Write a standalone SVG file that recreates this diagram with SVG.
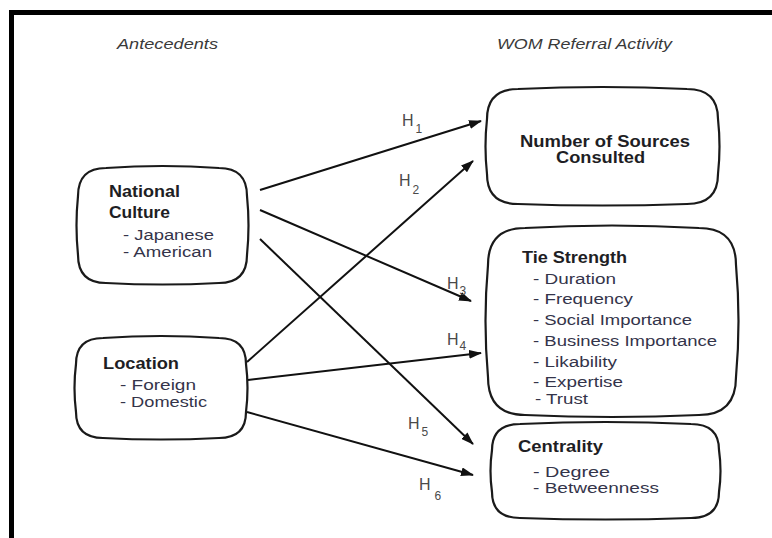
<svg xmlns="http://www.w3.org/2000/svg" width="772" height="538" viewBox="0 0 772 538">
  <style>
    .box { fill: #ffffff; stroke: #1a1a1a; stroke-width: 2.2; }
    .lbl { font-family: "Liberation Sans", Arial, sans-serif; font-weight: bold; font-size: 16px; fill: #1e1e24; }
    .item { font-family: "Liberation Sans", Arial, sans-serif; font-size: 15.5px; fill: #34344a; }
    .hdr { font-family: "Liberation Sans", Arial, sans-serif; font-style: italic; font-size: 14px; fill: #3a3a3a; }
    .h { font-family: "Liberation Sans", Arial, sans-serif; font-size: 16px; fill: #4a4a4a; }
    .sub { font-size: 12px; }
    .conn { stroke: #111111; stroke-width: 2; fill: none; marker-end: url(#arr); }
  </style>
  <defs>
    <marker id="arr" viewBox="0 0 13 9" refX="12" refY="4.5" markerWidth="13" markerHeight="9" markerUnits="userSpaceOnUse" orient="auto">
      <path d="M0,0 L13,4.5 L0,9 Z" fill="#111111"/>
    </marker>
  </defs>
  <rect x="0" y="0" width="772" height="538" fill="#ffffff"/>
  <path d="M11.5,540 L11.5,12.5 L775,12.5" fill="none" stroke="#000000" stroke-width="5"/>

  <text class="hdr" x="117" y="49" textLength="101" lengthAdjust="spacingAndGlyphs">Antecedents</text>
  <text class="hdr" x="497" y="49" textLength="175" lengthAdjust="spacingAndGlyphs">WOM Referral Activity</text>

  <g id="national-culture">
    <path class="box" d="M106,168 Q162.5,164 219,168 Q247,168 247,196 Q250,225.5 247,255 Q247,283 219,283 Q162.5,286 106,283 Q78,283 78,255 Q75,225.5 78,196 Q78,168 106,168 Z"/>
    <text class="lbl" x="109" y="197" textLength="71" lengthAdjust="spacingAndGlyphs">National</text>
    <text class="lbl" x="109" y="218" textLength="61" lengthAdjust="spacingAndGlyphs">Culture</text>
    <text class="item" x="123" y="240" textLength="91" lengthAdjust="spacingAndGlyphs">- Japanese</text>
    <text class="item" x="123" y="257" textLength="89" lengthAdjust="spacingAndGlyphs">- American</text>
  </g>

  <g id="location">
    <path class="box" d="M103,338 Q161,334 219,338 Q246,338 246,364 Q249,388 246,412 Q246,438 219,438 Q161,441 103,438 Q76,438 76,412 Q73,388 76,364 Q76,338 103,338 Z"/>
    <text class="lbl" x="103" y="369" textLength="76" lengthAdjust="spacingAndGlyphs">Location</text>
    <text class="item" x="120" y="390" textLength="76" lengthAdjust="spacingAndGlyphs">- Foreign</text>
    <text class="item" x="120" y="407" textLength="87" lengthAdjust="spacingAndGlyphs">- Domestic</text>
  </g>

  <g id="number-of-sources">
    <path class="box" d="M518,89 Q602.5,85 687,89 Q718,89 718,119 Q721,146.5 718,174 Q718,204 687,204 Q602.5,207 518,204 Q487,204 487,174 Q484,146.5 487,119 Q487,89 518,89 Z"/>
    <text class="lbl" x="520" y="147" textLength="170" lengthAdjust="spacingAndGlyphs">Number of Sources</text>
    <text class="lbl" x="556" y="163" textLength="89" lengthAdjust="spacingAndGlyphs">Consulted</text>
  </g>

  <g id="tie-strength">
    <path class="box" d="M525,228 Q612,223 699,228 Q736,228 736,265 Q741,321 736,377 Q736,415 699,415 Q612,419 525,415 Q488,415 488,377 Q483,321 488,265 Q488,228 525,228 Z"/>
    <text class="lbl" x="522" y="263" textLength="105" lengthAdjust="spacingAndGlyphs">Tie Strength</text>
    <text class="item" x="533" y="284" textLength="83" lengthAdjust="spacingAndGlyphs">- Duration</text>
    <text class="item" x="533" y="304" textLength="100" lengthAdjust="spacingAndGlyphs">- Frequency</text>
    <text class="item" x="533" y="325" textLength="159" lengthAdjust="spacingAndGlyphs">- Social Importance</text>
    <text class="item" x="533" y="346" textLength="184" lengthAdjust="spacingAndGlyphs">- Business Importance</text>
    <text class="item" x="533" y="367" textLength="84" lengthAdjust="spacingAndGlyphs">- Likability</text>
    <text class="item" x="533" y="387" textLength="90" lengthAdjust="spacingAndGlyphs">- Expertise</text>
    <text class="item" x="535" y="404" textLength="53" lengthAdjust="spacingAndGlyphs">- Trust</text>
  </g>

  <g id="centrality">
    <path class="box" d="M520,424 Q605.5,420 691,424 Q719,424 719,450 Q722,471 719,492 Q719,518 691,518 Q605.5,521 520,518 Q492,518 492,492 Q489,471 492,450 Q492,424 520,424 Z"/>
    <text class="lbl" x="518" y="452" textLength="85" lengthAdjust="spacingAndGlyphs">Centrality</text>
    <text class="item" x="533" y="477" textLength="77" lengthAdjust="spacingAndGlyphs">- Degree</text>
    <text class="item" x="533" y="493" textLength="126" lengthAdjust="spacingAndGlyphs">- Betweenness</text>
  </g>

  <g id="connectors">
    <line class="conn" x1="260" y1="190" x2="481" y2="121"/>
    <line class="conn" x1="247" y1="362" x2="473" y2="161"/>
    <line class="conn" x1="260" y1="210" x2="471" y2="301"/>
    <line class="conn" x1="248" y1="380" x2="481" y2="353"/>
    <line class="conn" x1="260" y1="239" x2="473" y2="444"/>
    <line class="conn" x1="247" y1="412" x2="473" y2="475"/>
    <text class="h" x="402" y="126">H<tspan class="sub" dx="2" dy="7">1</tspan></text>
    <text class="h" x="399" y="186">H<tspan class="sub" dx="2" dy="8">2</tspan></text>
    <text class="h" x="447" y="289">H<tspan class="sub" dx="1" dy="6">3</tspan></text>
    <text class="h" x="447" y="345">H<tspan class="sub" dx="1" dy="5">4</tspan></text>
    <text class="h" x="408" y="429">H<tspan class="sub" dx="2" dy="7">5</tspan></text>
    <text class="h" x="419" y="490">H<tspan class="sub" dx="4" dy="10">6</tspan></text>
  </g>
</svg>
